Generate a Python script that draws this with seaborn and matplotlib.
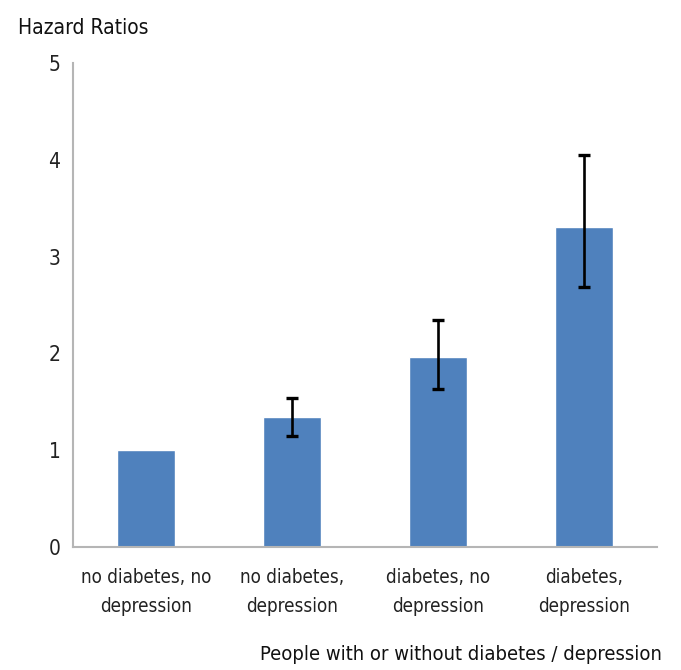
import matplotlib
matplotlib.use("Agg")
import matplotlib.pyplot as plt
import seaborn as sns
import pandas as pd
import numpy as np

categories = ["no diabetes, no\ndepression", "no diabetes,\ndepression",
              "diabetes, no\ndepression", "diabetes,\ndepression"]
hazard_ratios = [1.0, 1.34, 1.96, 3.31]
ci_lower = [np.nan, 1.15, 1.63, 2.69]
ci_upper = [np.nan, 1.54, 2.35, 4.05]
y_ticks = [0, 1, 2, 3, 4, 5]

sns.set_theme(style="white")
plt.rcParams['font.family'] = ['DejaVu Sans']
plt.rcParams['font.stretch'] = 'condensed'

df = pd.DataFrame({"group": categories, "hr": hazard_ratios,
                   "lo": ci_lower, "hi": ci_upper})

fig = plt.figure(figsize=(6.81, 6.70), dpi=100)
ax = fig.add_axes([73/681, 1-547/670, (657-73)/681, (547-63)/670])

sns.barplot(data=df, x="group", y="hr", color="#4f81bd", saturation=1,
            width=0.4, ax=ax, errorbar=None)

xs = np.arange(len(categories))
hr = df["hr"].to_numpy()
lo = df["lo"].to_numpy()
hi = df["hi"].to_numpy()
mask = ~np.isnan(lo)
ax.errorbar(xs[mask], hr[mask], yerr=[hr[mask]-lo[mask], hi[mask]-hr[mask]],
            fmt="none", ecolor="black", elinewidth=1.9, capsize=4.5, capthick=2.4)

ax.set_ylim(0, 5)
ax.set_yticks(y_ticks)
ax.set_xlim(-0.5, len(categories)-0.5)
ax.tick_params(axis="both", length=0, colors="#222222")
ax.tick_params(axis="x", pad=15, labelsize=13.5)
ax.tick_params(axis="y", pad=9, labelsize=15)
for lab in ax.get_xticklabels():
    lab.set_linespacing(1.7)
for s in ["top", "right"]:
    ax.spines[s].set_visible(False)
for s in ["left", "bottom"]:
    ax.spines[s].set_color("#b5b5b5")
    ax.spines[s].set_linewidth(1.5)

ax.set_ylabel("")
ax.set_xlabel("People with or without diabetes / depression", fontsize=14.5,
              color="#111111")
ax.xaxis.set_label_coords((662-73)/(657-73), -(655-547)/484)
ax.xaxis.label.set_ha("right")
ax.xaxis.label.set_va("center")

fig.text(18/681, 1-28/670, "Hazard Ratios", fontsize=15, ha="left",
         va="center", color="#111111")

fig.savefig("out.png", dpi=100, facecolor="white")
